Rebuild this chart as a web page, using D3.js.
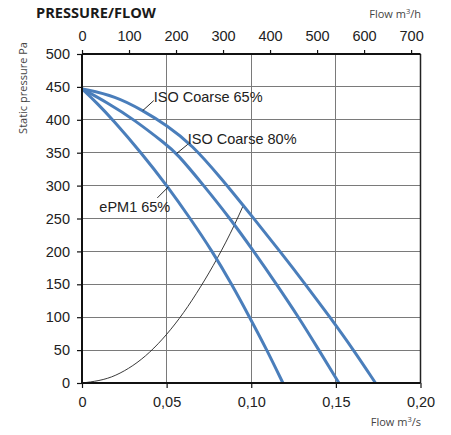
<!DOCTYPE html>
<html><head><meta charset="utf-8">
<script src="https://cdn.jsdelivr.net/npm/d3@7"></script>
<style>
body{margin:0;background:#fff;}
svg{display:block;}
</style></head>
<body>
<svg id="c" width="451" height="435"></svg>
<script>
// ---- data (flow m3/s, static pressure Pa) ----
const seriesNames = ["ISO Coarse 65%", "ISO Coarse 80%", "ePM1 65%"];
const isoCoarse65 = [[0,447],[0.02,436],[0.036,414],[0.05,392],[0.065,362],[0.082,312],[0.1015,250],[0.117,200],[0.132,150],[0.1465,100],[0.1605,50],[0.1734,0]];
const isoCoarse80 = [[0,447],[0.015,426],[0.031,400],[0.05,362],[0.0557,350],[0.072,300],[0.0875,250],[0.1015,200],[0.115,150],[0.128,100],[0.140,50],[0.1518,0]];
const ePM165 = [[0,447],[0.009,425],[0.0182,400],[0.035,350],[0.0502,300],[0.064,250],[0.077,200],[0.0885,150],[0.099,100],[0.1093,50],[0.1187,0]];
const systemCurve = [[0,0],[0.02,12],[0.04,47],[0.05,74],[0.06,107],[0.07,146],[0.08,190],[0.09,240],[0.0955,271]];
// label anchor points on curves (flow, pressure)
const labelAnchors = [[0.0359,414],[0.056,349],[0.051,298]];
const xTicks = [0,0.05,0.10,0.15,0.20];
const xTickLabels = ["0","0,05","0,10","0,15","0,20"];
const yTicks = [0,50,100,150,200,250,300,350,400,450,500];
const topTicks = [0,100,200,300,400,500,600,700];

const svg = d3.select("#c");
const L=82, R=420.5, T=54, B=383;
const x = d3.scaleLinear().domain([0,0.2]).range([L,R]);
const xh = d3.scaleLinear().domain([0,720]).range([L,R]);
const y = d3.scaleLinear().domain([0,500]).range([B,T]);
const tickFont = "'Liberation Sans', Arial, sans-serif";
const smallFont = "'Open Sans', 'Noto Sans', sans-serif";

// grid
const g = svg.append("g");
g.selectAll("line.h").data(yTicks.filter(d=>d>0&&d<500)).enter().append("line")
  .attr("x1",L).attr("x2",R).attr("y1",d=>y(d)).attr("y2",d=>y(d))
  .attr("stroke","#7a7a7a").attr("stroke-width",1).attr("shape-rendering","crispEdges");
g.selectAll("line.v").data(xTicks.filter(d=>d>0&&d<0.2)).enter().append("line")
  .attr("y1",T).attr("y2",B).attr("x1",d=>x(d)).attr("x2",d=>x(d))
  .attr("stroke","#7a7a7a").attr("stroke-width",1).attr("shape-rendering","crispEdges");
// right border
svg.append("line").attr("x1",R).attr("x2",R).attr("y1",T).attr("y2",B).attr("stroke","#222").attr("stroke-width",1.5);

// system curve
const line = d3.line().x(d=>x(d[0])).y(d=>y(d[1])).curve(d3.curveMonotoneX);
svg.append("path").attr("d",line(systemCurve)).attr("fill","none").attr("stroke","#222").attr("stroke-width",0.9);

// fan curves
const fanLine = d3.line().x(d=>x(d[0])).y(d=>y(d[1])).curve(d3.curveBasis);
[isoCoarse65, isoCoarse80, ePM165].forEach(s=>{
  svg.append("path").attr("d",fanLine(s)).attr("fill","none").attr("stroke","#4a7ebb").attr("stroke-width",3);
});

// axes
const yAxis = d3.axisLeft(y).tickValues(yTicks).tickSize(5).tickPadding(7).tickFormat(d3.format("d"));
const ya = svg.append("g").attr("transform",`translate(${L},0)`).call(yAxis);
const xAxis = d3.axisBottom(x).tickValues(xTicks).tickSize(5).tickPadding(9).tickFormat((d,i)=>xTickLabels[i]);
const xa = svg.append("g").attr("transform",`translate(0,${B})`).call(xAxis);
const tAxis = d3.axisTop(xh).tickValues(topTicks).tickSize(4).tickPadding(9).tickFormat(d3.format("d"));
const ta = svg.append("g").attr("transform",`translate(0,${T})`).call(tAxis);
[ya,xa,ta].forEach(a=>{
  a.select(".domain").attr("stroke","#111").attr("stroke-width",2);
  a.selectAll(".tick line").attr("stroke","#111").attr("stroke-width",1.2);
  a.selectAll(".tick text").attr("fill","#222").style("font-family",tickFont).style("font-size","14.5px");
});
ya.select(".domain").attr("d",`M0,${B}V${T}`);
xa.select(".domain").attr("d",`M${L},0H${R}`);
ta.select(".domain").attr("d",`M${L},0H${R}`);

// labels with leaders
const offsets = [[11,-10,11,-9],[11,-9,11,-9],[-11,11,-69,25]];
labelAnchors.forEach((a,i)=>{
  const px=x(a[0]), py=y(a[1]);
  const o=offsets[i];
  svg.append("line").attr("x1",px).attr("y1",py).attr("x2",px+o[0]).attr("y2",py+o[1]).attr("stroke","#111").attr("stroke-width",0.9);
  svg.append("text").attr("x",px+o[2]).attr("y",py+o[3]).text(seriesNames[i])
    .style("font-family",tickFont).style("font-size","14.5px").attr("fill","#222");
});

// titles
svg.append("text").attr("x",36).attr("y",18).text("PRESSURE/FLOW")
  .style("font-family",smallFont).style("font-weight","bold").style("font-size","14.6px").attr("fill","#1a1a1a");
svg.append("text").attr("x",421).attr("y",18).attr("text-anchor","end")
  .style("font-family",smallFont).style("font-size","11px").attr("fill","#444")
  .html('Flow m<tspan dy="-4" font-size="7.5px">3</tspan><tspan dy="4">/h</tspan>');
svg.append("text").attr("x",421).attr("y",426).attr("text-anchor","end")
  .style("font-family",smallFont).style("font-size","11px").attr("fill","#444")
  .html('Flow m<tspan dy="-4" font-size="7.5px">3</tspan><tspan dy="4">/s</tspan>');
svg.append("text").attr("transform","translate(27,88) rotate(-90)").attr("text-anchor","middle")
  .style("font-family",smallFont).style("font-size","11px").attr("fill","#444").text("Static pressure Pa");
</script>
</body></html>
